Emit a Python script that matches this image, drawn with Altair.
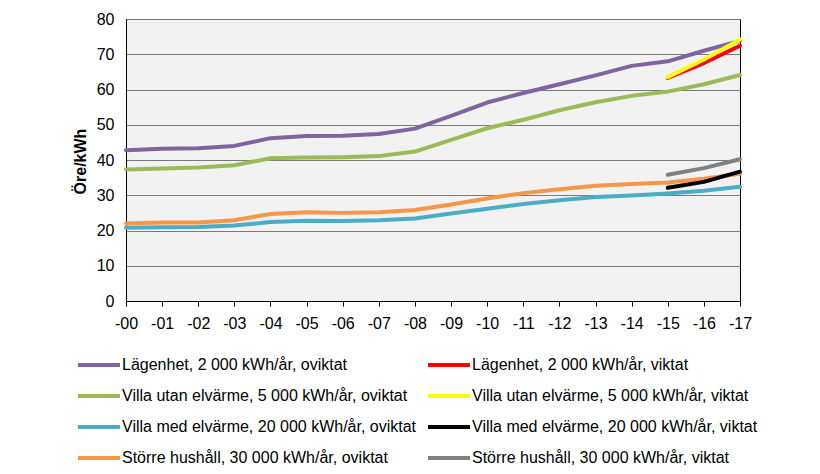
import altair as alt
import pandas as pd

years = ["-00", "-01", "-02", "-03", "-04", "-05", "-06", "-07", "-08", "-09",
         "-10", "-11", "-12", "-13", "-14", "-15", "-16", "-17"]

lagenhet_o = [42.8, 43.2, 43.3, 44.0, 46.2, 46.8, 46.9, 47.4, 48.9, 52.5,
              56.3, 59.0, 61.5, 64.0, 66.7, 68.0, 71.0, 73.8]
villa_utan_o = [37.3, 37.6, 37.9, 38.5, 40.5, 40.7, 40.8, 41.1, 42.4, 45.7,
                49.0, 51.4, 54.1, 56.4, 58.2, 59.4, 61.5, 64.1]
villa_med_o = [20.8, 20.9, 21.0, 21.4, 22.4, 22.8, 22.7, 22.9, 23.4, 24.8,
               26.2, 27.5, 28.6, 29.5, 29.9, 30.5, 31.3, 32.4]
storre_o = [22.0, 22.3, 22.3, 22.9, 24.7, 25.2, 25.0, 25.2, 25.8, 27.4,
            29.1, 30.6, 31.7, 32.7, 33.2, 33.6, 34.7, 36.1]

viktat_years = ["-15", "-16", "-17"]
lagenhet_v = [63.3, 67.5, 72.4]
villa_utan_v = [63.5, 68.5, 74.2]
villa_med_v = [32.1, 33.8, 36.7]
storre_v = [35.8, 37.7, 40.2]

names_o = ["Lägenhet, 2 000 kWh/år, oviktat",
           "Villa utan elvärme, 5 000 kWh/år, oviktat",
           "Villa med elvärme, 20 000 kWh/år, oviktat",
           "Större hushåll, 30 000 kWh/år, oviktat"]
names_v = ["Lägenhet, 2 000 kWh/år, viktat",
           "Villa utan elvärme, 5 000 kWh/år, viktat",
           "Villa med elvärme, 20 000 kWh/år, viktat",
           "Större hushåll, 30 000 kWh/år, viktat"]
colors_o = ["#8064a2", "#9bbb59", "#4bacc6", "#f79646"]
colors_v = ["#ff0000", "#ffff00", "#000000", "#808080"]

rows_o = []
for name, vals in zip(names_o, [lagenhet_o, villa_utan_o, villa_med_o, storre_o]):
    for i, (y, v) in enumerate(zip(years, vals)):
        rows_o.append({"year": y, "value": v, "serie": name, "idx": i})
rows_v = []
for name, vals in zip(names_v, [lagenhet_v, villa_utan_v, villa_med_v, storre_v]):
    for i, (y, v) in enumerate(zip(viktat_years, vals)):
        rows_v.append({"year": y, "value": v, "serie": name, "idx": i})

df_o = pd.DataFrame(rows_o)
df_v = pd.DataFrame(rows_v)

FONT = "Liberation Sans"
FS = 16

x_enc = alt.X("year:N", sort=years,
              scale=alt.Scale(type="point", domain=years, padding=0),
              axis=alt.Axis(title=None, labelAngle=0, tickSize=5, tickColor="black",
                            domainColor="black", labelPadding=9, labelFontSize=FS,
                            labelFont=FONT, labelColor="black", grid=False))
y_enc = alt.Y("value:Q", scale=alt.Scale(domain=[0, 80], nice=False),
              axis=alt.Axis(title="Öre/kWh", values=list(range(0, 81, 10)),
                            tickSize=0, labelPadding=12, labelFontSize=FS,
                            labelFont=FONT, labelColor="black", domainColor="black",
                            grid=True, gridColor="#7a7a7a", gridWidth=1,
                            titleFont=FONT, titleFontSize=FS, titleFontWeight="bold",
                            titleColor="black", titleX=-46, titleY=142,
                            titleAngle=270, titleAlign="center", titleBaseline="middle"))


def legend(x):
    return alt.Legend(orient="none", legendX=x, legendY=323, title=None,
                      symbolType="stroke", symbolStrokeWidth=4, symbolSize=1764,
                      labelFontSize=FS, labelFont=FONT, labelColor="black",
                      rowPadding=0, labelOffset=0, labelLimit=500, padding=0,
                      direction="vertical")


line_o = alt.Chart(df_o).mark_line(strokeWidth=4, strokeJoin="round", strokeCap="round").encode(
    x=x_enc, y=y_enc,
    color=alt.Color("serie:N", scale=alt.Scale(domain=names_o, range=colors_o), legend=legend(-50)),
    order="idx:Q",
)
line_v = alt.Chart(df_v).mark_line(strokeWidth=4, strokeJoin="round", strokeCap="round").encode(
    x=x_enc, y=y_enc,
    color=alt.Color("serie:N", scale=alt.Scale(domain=names_v, range=colors_v), legend=legend(300)),
    order="idx:Q",
)

chart = alt.layer(line_o, line_v).resolve_scale(color="independent").properties(
    width=614, height=282,
    autosize=alt.AutoSizeParams(type="none"),
    padding={"left": 126, "top": 19, "right": 80, "bottom": 173},
    background="white",
).configure_view(fill="#f2f2f2", stroke="black", strokeWidth=1)

chart.save("out.html", embed_options={"renderer": "svg", "actions": False})
